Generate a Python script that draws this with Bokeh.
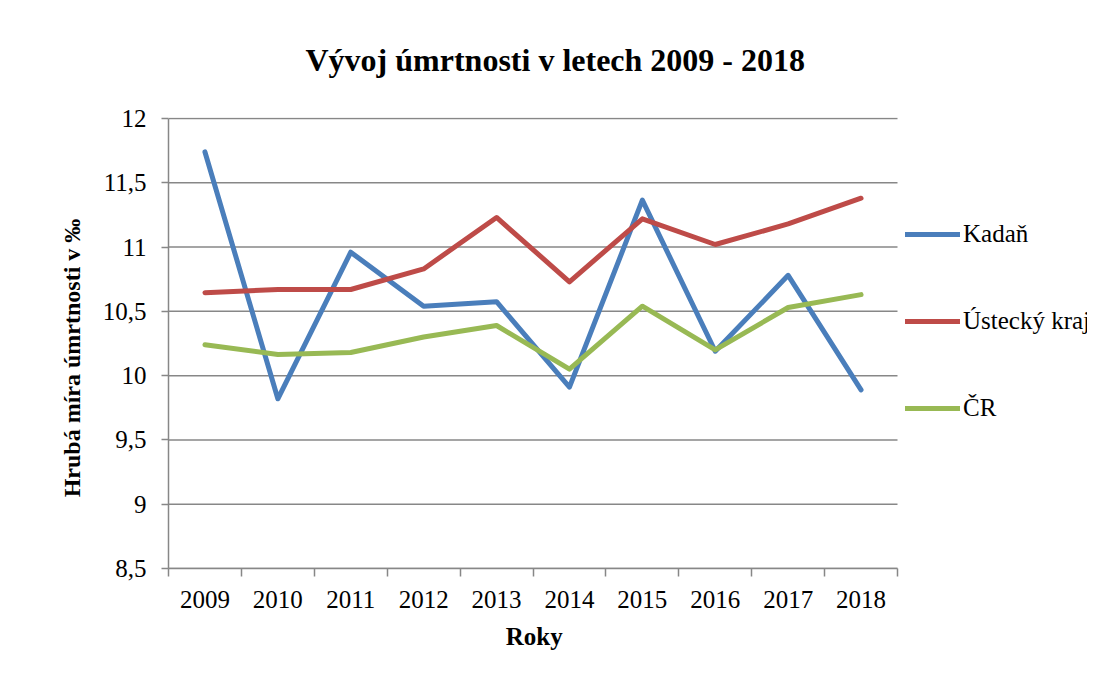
from bokeh.plotting import figure
from bokeh.models import (FixedTicker, CustomJSTickFormatter, Legend, LegendItem,
                          Range1d)
from bokeh.embed import file_html
from bokeh.resources import INLINE

years = ["2009", "2010", "2011", "2012", "2013", "2014", "2015", "2016", "2017", "2018"]
kadan = [11.74, 9.82, 10.96, 10.54, 10.575, 9.91, 11.365, 10.19, 10.78, 9.89]
ustecky = [10.645, 10.67, 10.67, 10.83, 11.23, 10.73, 11.22, 11.02, 11.18, 11.38]
cr = [10.24, 10.165, 10.18, 10.30, 10.39, 10.05, 10.54, 10.20, 10.53, 10.63]
y_ticks = [8.5, 9, 9.5, 10, 10.5, 11, 11.5, 12]

series_names = ["Kadaň", "Ústecký kraj", "ČR"]
colors = ["#4A7EBB", "#BE4B48", "#98B954"]

FONT = "Liberation Serif"
GRID = "#878787"
NBSP = "\u00a0"

# layout constants (pixels)
W, H = 1087, 674
LEFT, TOP, BOTTOM = 168, 115, 106
PLOT_W = 729          # width of the data area (10 categories)
n = len(years)
frame_w = W - LEFT
x_end = n * frame_w / PLOT_W
y_end = 12 + 3.5 / 452

xs = [i + 0.5 for i in range(n)]

p = figure(width=W, height=H, output_backend="svg", toolbar_location=None,
           x_range=Range1d(0, x_end), y_range=Range1d(8.5, y_end),
           min_border_left=LEFT, min_border_top=TOP, min_border_right=0,
           min_border_bottom=BOTTOM)
p.outline_line_color = None
p.background_fill_color = "white"
p.border_fill_color = "white"

p.title.text = "Vývoj úmrtnosti v letech 2009 - 2018"
p.title.align = "left"
p.title.offset = 137
p.title.text_font = FONT
p.title.text_font_size = "32px"
p.title.text_font_style = "bold"
p.title.text_color = "black"
p.title.standoff = 79

# x axis
p.xaxis.ticker = FixedTicker(ticks=xs, minor_ticks=list(range(n + 1)))
p.xaxis.bounds = (0, n)
p.xaxis.major_label_overrides = {x: y for x, y in zip(xs, years)}
p.xaxis.major_tick_out = 0
p.xaxis.major_tick_in = 0
p.xaxis.minor_tick_out = 8
p.xaxis.minor_tick_in = 0
p.xaxis.minor_tick_line_color = GRID
p.xaxis.minor_tick_line_width = 1.5
p.xaxis.axis_line_color = GRID
p.xaxis.axis_line_width = 1.5
p.xaxis.major_label_text_font = FONT
p.xaxis.major_label_text_font_size = "25px"
p.xaxis.major_label_text_color = "black"
p.xaxis.major_label_standoff = 14
p.xaxis.axis_label = "Roky" + NBSP * 30
p.xaxis.axis_label_text_font = FONT
p.xaxis.axis_label_text_font_size = "25px"
p.xaxis.axis_label_text_font_style = "bold"
p.xaxis.axis_label_text_color = "black"
p.xaxis.axis_label_standoff = 12
p.xgrid.grid_line_color = None
p.ygrid.grid_line_color = None

# y axis
p.yaxis.ticker = FixedTicker(ticks=y_ticks)
p.yaxis.bounds = (8.5, 12)
p.yaxis.formatter = CustomJSTickFormatter(code="return tick.toString().replace('.', ',');")
p.yaxis.major_tick_out = 7
p.yaxis.major_tick_in = 0
p.yaxis.minor_tick_out = 0
p.yaxis.minor_tick_in = 0
p.yaxis.major_tick_line_color = GRID
p.yaxis.major_tick_line_width = 1.5
p.yaxis.axis_line_color = GRID
p.yaxis.axis_line_width = 1.5
p.yaxis.major_label_text_font = FONT
p.yaxis.major_label_text_font_size = "25px"
p.yaxis.major_label_text_color = "black"
p.yaxis.major_label_standoff = 15
p.yaxis.axis_label = "Hrubá míra úmrtnosti v ‰" + NBSP * 5
p.yaxis.axis_label_text_font = FONT
p.yaxis.axis_label_text_font_size = "24px"
p.yaxis.axis_label_text_font_style = "bold"
p.yaxis.axis_label_text_color = "black"
p.yaxis.axis_label_standoff = 15

# horizontal gridlines across the data area only
p.segment(x0=[0] * len(y_ticks), x1=[n] * len(y_ticks), y0=y_ticks, y1=y_ticks,
          line_color=GRID, line_width=1.5)

items = []
for name, vals, col in zip(series_names, [kadan, ustecky, cr], colors):
    r = p.line(xs, vals, line_color=col, line_width=5, line_cap="round", line_join="round")
    items.append(LegendItem(label=name, renderers=[r]))

legend = Legend(items=items, location=(737, 146), orientation="vertical",
                label_text_font=FONT, label_text_font_size="25px",
                label_text_color="black", glyph_width=55, glyph_height=20,
                label_height=20, spacing=59, padding=0, margin=0,
                label_standoff=3, border_line_color=None,
                background_fill_alpha=0)
p.add_layout(legend)

open("out.html", "w").write(file_html(p, INLINE))
